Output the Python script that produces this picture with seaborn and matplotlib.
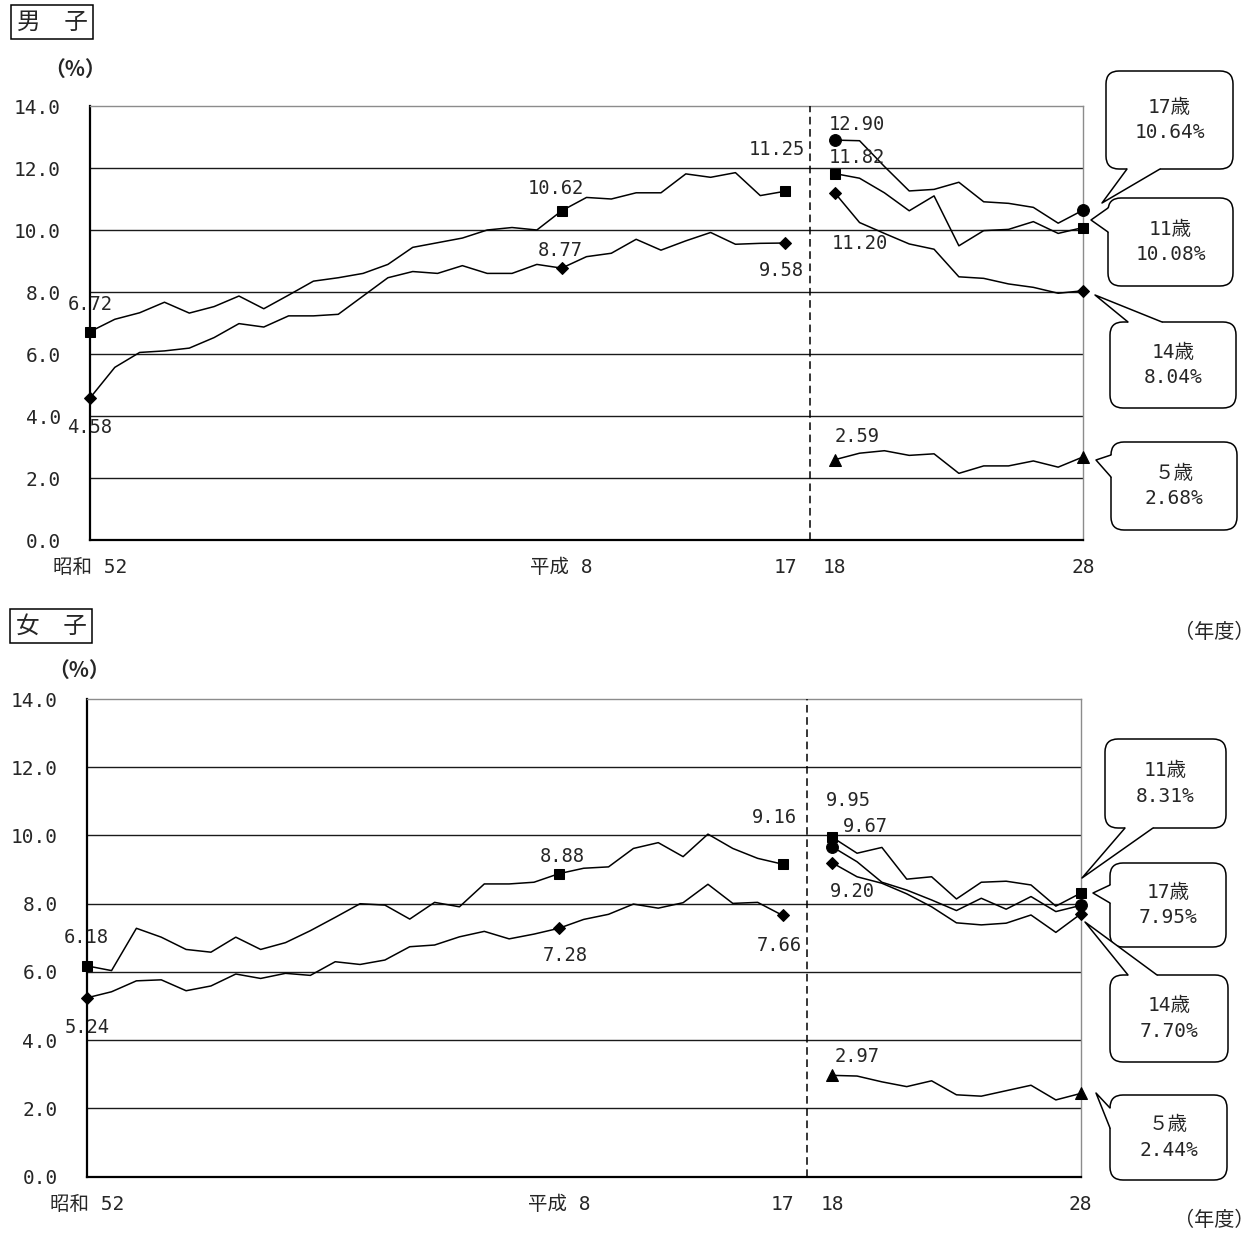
import numpy as np
import matplotlib
matplotlib.use('Agg')
import matplotlib.pyplot as plt
from matplotlib.patches import FancyBboxPatch, Polygon
from matplotlib.lines import Line2D
from matplotlib.transforms import IdentityTransform
import seaborn as sns

sns.set_style('white')
# numbers in a monospace face (like the original), CJK falls back to Noto
NUM_FONT = ['DejaVu Sans Mono', 'Noto Sans CJK JP']
JP_FONT = ['Noto Sans CJK JP', 'DejaVu Sans']
plt.rcParams['font.family'] = NUM_FONT

W, H = 1258, 1234

# ---- data (昭和52〜平成17: old method, 平成18〜28: new method) ----
boys_11_old = [6.72, 7.12, 7.33, 7.67, 7.32, 7.53, 7.87, 7.46, 7.90, 8.35,
               8.46, 8.60, 8.89, 9.44, 9.59, 9.74, 10.00, 10.08, 10.00, 10.62,
               11.05, 11.00, 11.20, 11.20, 11.81, 11.70, 11.85, 11.11, 11.25]
boys_14_old = [4.58, 5.57, 6.05, 6.10, 6.19, 6.53, 6.98, 6.87, 7.23, 7.23,
               7.28, 7.87, 8.46, 8.66, 8.60, 8.85, 8.60, 8.60, 8.89, 8.77,
               9.14, 9.25, 9.70, 9.35, 9.65, 9.92, 9.54, 9.57, 9.58]
boys_17 = [12.90, 12.88, 12.05, 11.26, 11.31, 11.54, 10.91, 10.86, 10.73, 10.22, 10.64]
boys_11 = [11.82, 11.67, 11.20, 10.62, 11.10, 9.49, 9.98, 10.02, 10.27, 9.89, 10.08]
boys_14 = [11.20, 10.24, 9.89, 9.55, 9.38, 8.49, 8.44, 8.26, 8.15, 7.96, 8.04]
boys_5 = [2.59, 2.80, 2.88, 2.73, 2.78, 2.15, 2.39, 2.39, 2.55, 2.35, 2.68]

girls_11_old = [6.18, 6.04, 7.28, 7.02, 6.66, 6.58, 7.02, 6.66, 6.86, 7.21,
                7.60, 8.00, 7.96, 7.55, 8.04, 7.91, 8.58, 8.58, 8.63, 8.88,
                9.04, 9.08, 9.62, 9.79, 9.38, 10.04, 9.62, 9.33, 9.16]
girls_14_old = [5.24, 5.42, 5.74, 5.77, 5.45, 5.59, 5.94, 5.81, 5.96, 5.90,
                6.30, 6.22, 6.35, 6.74, 6.79, 7.03, 7.19, 6.97, 7.11, 7.28,
                7.54, 7.69, 7.99, 7.87, 8.03, 8.57, 8.01, 8.04, 7.66]
girls_11 = [9.95, 9.48, 9.65, 8.72, 8.79, 8.14, 8.63, 8.66, 8.55, 7.93, 8.31]
girls_17 = [9.67, 9.23, 8.63, 8.40, 8.11, 7.80, 8.16, 7.84, 8.21, 7.77, 7.95]
girls_14 = [9.20, 8.79, 8.60, 8.29, 7.91, 7.44, 7.38, 7.43, 7.67, 7.16, 7.70]
girls_5 = [2.97, 2.95, 2.78, 2.64, 2.81, 2.40, 2.36, 2.52, 2.68, 2.25, 2.44]

age_labels = ['17歳', '11歳', '14歳', '５歳']
tick_labels = ['昭和 52', '平成 8', '17', '18', '28']
yticks = [0, 2, 4, 6, 8, 10, 12, 14]

pos_old = np.arange(len(boys_11_old))               # 0..28
gap = pos_old[-1] + 1                               # blank slot for the break
pos_new = gap + 1 + np.arange(len(boys_17))         # 30..40
tick_pos = [0, 19, pos_old[-1], pos_new[0], pos_new[-1]]

fig = plt.figure(figsize=(W / 100, H / 100), dpi=100)
fig.patch.set_facecolor('white')


def fig_xy(x, y):
    return x / W, 1 - y / H


def disp(x, y):
    return x, H - y


def draw_series(ax, pos, vals, marker, ms, every):
    sns.lineplot(x=pos, y=vals, ax=ax, color='black', lw=1.1, marker=marker,
                 markersize=ms, markevery=every, markeredgecolor='black',
                 markerfacecolor='black', clip_on=False, zorder=4,
                 sort=False, estimator=None)


def setup_axes(ax):
    ax.set_xlim(0, pos_new[-1])
    ax.set_ylim(0, 14)
    ax.set_yticks(yticks)
    ax.set_yticklabels([f'{v:.1f}' for v in yticks], fontsize=14)
    ax.set_xticks(tick_pos)
    ax.set_xticklabels(tick_labels, fontsize=14)
    ax.set_xticks(np.arange(0, pos_new[-1] + 1), minor=True)
    ax.tick_params(axis='x', which='both', direction='in', length=5, width=1, pad=13)
    ax.tick_params(axis='y', direction='in', length=4, width=1, pad=21)
    for v in yticks[1:-1]:
        ax.axhline(v, color='#1a1a1a', lw=1.0, zorder=1)
    for s in ['left', 'bottom']:
        ax.spines[s].set_color('black')
        ax.spines[s].set_linewidth(1.6)
    for s in ['top', 'right']:
        ax.spines[s].set_color('#8c8c8c')
        ax.spines[s].set_linewidth(1.0)
    ax.axvline(gap, color='black', ls=(0, (5, 3)), lw=1.1, zorder=3)
    ax.set_xlabel('')
    ax.set_ylabel('')


def value_label(ax, x, v, dx, dy):
    ax.annotate(f'{v:.2f}', xy=(x, v), xytext=(dx * 0.72, dy * 0.72),
                textcoords='offset points', ha='center', va='center',
                fontsize=13.5, zorder=6)


def callout(text, box, base, tip, inward):
    x0, y0, x1, y1 = box
    fig.add_artist(FancyBboxPatch(disp(x0, y1), x1 - x0, y1 - y0,
                                  boxstyle='round,pad=0,rounding_size=13',
                                  transform=IdentityTransform(), fc='white',
                                  ec='black', lw=1.1, zorder=5))
    (bx1, by1), (bx2, by2) = base
    ix, iy = inward[0] * 3, inward[1] * 3
    fill_pts = [disp(*tip), disp(bx1, by1), disp(bx1 + ix, by1 + iy),
                disp(bx2 + ix, by2 + iy), disp(bx2, by2)]
    fig.add_artist(Polygon(fill_pts, closed=True, transform=IdentityTransform(),
                           fc='white', ec='none', zorder=6))
    xs = [bx1, tip[0], bx2]
    ys = [H - by1, H - tip[1], H - by2]
    fig.add_artist(Line2D(xs, ys, transform=IdentityTransform(), color='black',
                          lw=1.1, zorder=7))
    cx, cy = fig_xy((x0 + x1) / 2, (y0 + y1) / 2)
    fig.text(cx, cy, text, ha='center', va='center', fontsize=14,
             linespacing=1.45, zorder=8)


# ---------------- 男子 ----------------
ax1 = fig.add_axes([90 / W, 1 - 540 / H, 993 / W, 434 / H])
setup_axes(ax1)
draw_series(ax1, pos_old, boys_11_old, 's', 7.5, [0, 19, 28])
draw_series(ax1, pos_old, boys_14_old, 'D', 6, [0, 19, 28])
draw_series(ax1, pos_new, boys_17, 'o', 8.5, [0, 10])
draw_series(ax1, pos_new, boys_11, 's', 7.5, [0, 10])
draw_series(ax1, pos_new, boys_14, 'D', 6, [0, 10])
draw_series(ax1, pos_new, boys_5, '^', 8, [0, 10])

value_label(ax1, 0, boys_11_old[0], 0, 27)
value_label(ax1, 0, boys_14_old[0], 0, -29)
value_label(ax1, 19, boys_11_old[19], -6, 22)
value_label(ax1, 19, boys_14_old[19], -1, 18)
value_label(ax1, 28, boys_11_old[28], -8, 42)
value_label(ax1, 28, boys_14_old[28], -4, -27)
value_label(ax1, pos_new[0], boys_17[0], 22, 16)
value_label(ax1, pos_new[0], boys_11[0], 22, 16)
value_label(ax1, pos_new[0], boys_14[0], 25, -51)
value_label(ax1, pos_new[0], boys_5[0], 22, 23)

callout(f'{age_labels[0]}\n{boys_17[-1]:.2f}%', (1106, 71, 1233, 169),
        ((1127, 169), (1160, 169)), (1102, 203), (0, -1))
callout(f'{age_labels[1]}\n{boys_11[-1]:.2f}%', (1108, 198, 1233, 286),
        ((1108, 208), (1108, 232)), (1091, 220), (1, 0))
callout(f'{age_labels[2]}\n{boys_14[-1]:.2f}%', (1110, 322, 1236, 408),
        ((1128, 322), (1162, 322)), (1095, 295), (0, 1))
callout(f'{age_labels[3]}\n{boys_5[-1]:.2f}%', (1111, 442, 1237, 530),
        ((1111, 455), (1111, 477)), (1096, 460), (1, 0))

# ---------------- 女子 ----------------
ax2 = fig.add_axes([86.7 / W, 1 - 1176.7 / H, 994 / W, 477.7 / H])
setup_axes(ax2)
draw_series(ax2, pos_old, girls_11_old, 's', 7.5, [0, 19, 28])
draw_series(ax2, pos_old, girls_14_old, 'D', 6, [0, 19, 28])
draw_series(ax2, pos_new, girls_11, 's', 7.5, [0, 10])
draw_series(ax2, pos_new, girls_17, 'o', 8.5, [0, 10])
draw_series(ax2, pos_new, girls_14, 'D', 6, [0, 10])
draw_series(ax2, pos_new, girls_5, '^', 8, [0, 10])

value_label(ax2, 0, girls_11_old[0], 0, 28)
value_label(ax2, 0, girls_14_old[0], 0, -30)
value_label(ax2, 19, girls_11_old[19], 3, 17)
value_label(ax2, 19, girls_14_old[19], 6, -27)
value_label(ax2, 28, girls_11_old[28], -8, 47)
value_label(ax2, 28, girls_14_old[28], -3, -30)
value_label(ax2, pos_new[0], girls_11[0], 16, 37)
value_label(ax2, pos_new[0], girls_17[0], 33, 20)
value_label(ax2, pos_new[0], girls_14[0], 20, -29)
value_label(ax2, pos_new[0], girls_5[0], 25, 19)

callout(f'{age_labels[1]}\n{girls_11[-1]:.2f}%', (1105, 739, 1226, 828),
        ((1125, 828), (1153, 828)), (1082, 878), (0, -1))
callout(f'{age_labels[0]}\n{girls_17[-1]:.2f}%', (1110, 863, 1226, 947),
        ((1110, 885), (1110, 903)), (1093, 893), (1, 0))
callout(f'{age_labels[2]}\n{girls_14[-1]:.2f}%', (1110, 975, 1228, 1062),
        ((1128, 975), (1157, 975)), (1085, 922), (0, 1))
callout(f'{age_labels[3]}\n{girls_5[-1]:.2f}%', (1110, 1095, 1227, 1180),
        ((1110, 1108), (1110, 1128)), (1096, 1093), (1, 0))

# ---------------- titles / units ----------------
for txt, (x, y) in [('男　子', (52, 22)), ('女　子', (51, 626))]:
    fx, fy = fig_xy(x, y)
    fig.text(fx, fy, txt, ha='center', va='center', fontsize=17, family=JP_FONT,
             bbox=dict(boxstyle='square,pad=0.22', fc='white', ec='black', lw=1.1))
for (x, y) in [(75, 69), (79, 670)]:
    fx, fy = fig_xy(x, y)
    fig.text(fx, fy, '（%）', ha='center', va='center', fontsize=15,
             family=JP_FONT, fontweight='bold')
for y in [632, 1220]:
    fx, fy = fig_xy(1255, y)
    fig.text(fx, fy, '（年度）', ha='right', va='center', fontsize=14.5, family=JP_FONT)

fig.savefig('out.png', dpi=100)
